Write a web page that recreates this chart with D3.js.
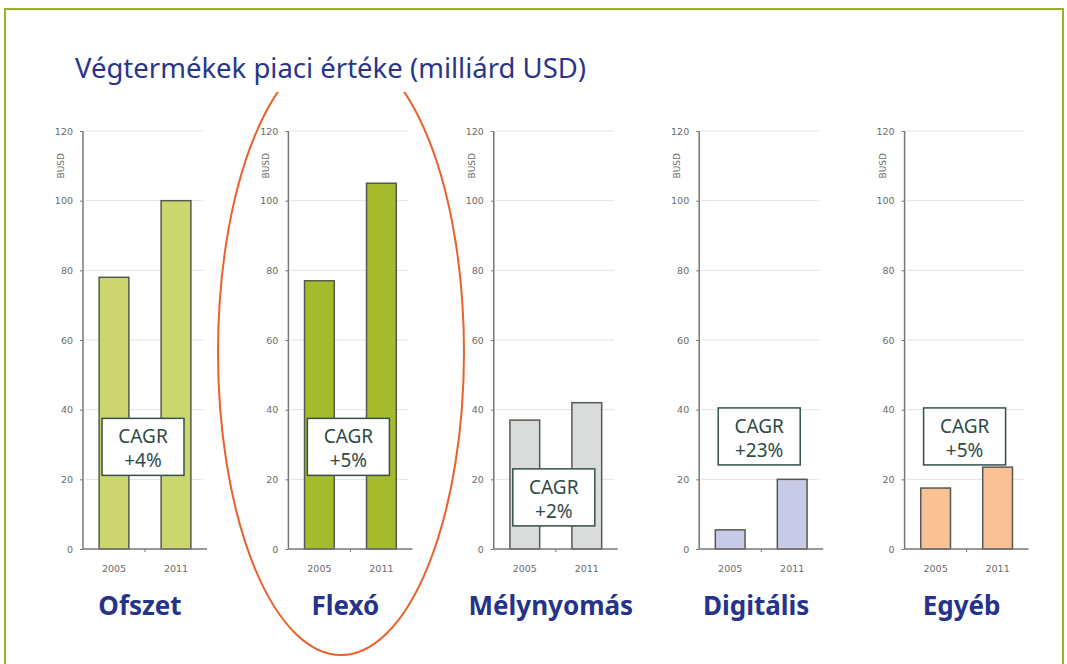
<!DOCTYPE html>
<html>
<head>
	<meta charset="UTF-8">
	<title>Végtermékek piaci értéke</title>
	<style>
html, body {
	margin:0;padding:0;background:#fff;
}
.tick text {
	font-family: "DejaVu Sans", sans-serif;
	font-size: 9.5px;
	fill: #6b6b6b;
}
.cat {
	font-family: "Noto Sans", sans-serif;
	font-weight: bold;
	font-size: 26px;
	fill: #25338a;
}
.cagr {
	font-family: "Noto Sans", sans-serif;
	font-size: 19px;
	fill: #2f4a47;
}
	</style>
	<script src="https://cdnjs.cloudflare.com/ajax/libs/d3/7.8.5/d3.min.js"></script>
</head>
<body>
<script>
const title = 'Végtermékek piaci értéke (milliárd USD)';
const segments = ['Ofszet', 'Flexó', 'Mélynyomás', 'Digitális', 'Egyéb'];
const years = ['2005', '2011'];
const values2005 = [78, 77, 37, 5.5, 17.5];
const values2011 = [100, 105, 42, 20, 23.5];
const cagr = ['+4%', '+5%', '+2%', '+23%', '+5%'];
const yTicks = [0, 20, 40, 60, 80, 100, 120];
const colors = ['#cbd66f', '#a5ba2c', '#d9dcda', '#c9c9e8', '#f9c294'];
// top of each CAGR box, in axis units
const boxTop = [37.5, 37.5, 23, 40.5, 40.5];

const W = 1067, H = 664;
const svg = d3.select(document.body).append('svg').attr('width', W).attr('height', H);

svg.append('rect')
	.attr('x', 5).attr('y', 9).attr('width', 1058).attr('height', 700)
	.attr('fill', 'none').attr('stroke', '#9fae2e').attr('stroke-width', 2);

const y = d3.scaleLinear().domain([0, 120]).range([549, 131]);
const panelX = d3.scaleBand().domain(segments).range([83, 1110]).paddingInner(0).paddingOuter(0);
const plotW = 124;

segments.forEach((seg, i) => {
	const g = svg.append('g').attr('transform', `translate(${panelX(seg)},0)`);
	const x = d3.scaleBand().domain(years).range([0, plotW]).paddingInner(0.52).paddingOuter(0.26);

	// grid
	g.append('g').selectAll('line').data(yTicks.slice(1)).join('line')
		.attr('x1', 2).attr('x2', plotW - 4)
		.attr('y1', d => y(d)).attr('y2', d => y(d))
		.attr('stroke', '#e3e3e3').attr('stroke-width', 1);

	const vals = [values2005[i], values2011[i]];
	g.append('g').selectAll('rect').data(vals).join('rect')
		.attr('x', (d, j) => x(years[j]))
		.attr('y', d => y(d))
		.attr('width', x.bandwidth())
		.attr('height', d => y(0) - y(d))
		.attr('fill', colors[i])
		.attr('stroke', '#555a4e').attr('stroke-width', 1.5);

	const ya = g.append('g').call(d3.axisLeft(y).tickValues(yTicks).tickSize(3).tickPadding(7));
	ya.select('.domain').attr('stroke', '#777').attr('stroke-width', 1.5).attr('d', `M0,${y(120)}V${y(0)}`);
	ya.selectAll('.tick line').attr('stroke', '#777');

	const xa = g.append('g').attr('transform', `translate(0,${y(0)})`)
		.call(d3.axisBottom(x).tickSize(0).tickPadding(14));
	xa.select('.domain').attr('stroke', '#777').attr('stroke-width', 1.5).attr('d', `M0,0H${plotW}`);
	xa.append('line').attr('x1', plotW / 2).attr('x2', plotW / 2).attr('y1', 0).attr('y2', 3).attr('stroke', '#777');
	xa.selectAll('.tick text').attr('dy', '0.9em');

	g.append('text')
		.attr('transform', `translate(-19,${y(110)}) rotate(-90)`)
		.attr('text-anchor', 'middle')
		.attr('font-family', '"DejaVu Sans", sans-serif')
		.attr('font-size', 9).attr('fill', '#6b6b6b')
		.text('BUSD');

	// CAGR box
	const bx = plotW / 2 - 2, bw = 82, bh = 57;
	const box = g.append('g').attr('transform', `translate(${bx - bw / 2},${y(boxTop[i])})`);
	box.append('rect').attr('width', bw).attr('height', bh)
		.attr('fill', '#fff').attr('stroke', '#35504c').attr('stroke-width', 1.5);
	box.append('text').attr('class', 'cagr').attr('x', bw / 2).attr('y', 25).attr('text-anchor', 'middle').text('CAGR');
	box.append('text').attr('class', 'cagr').attr('x', bw / 2).attr('y', 49).attr('text-anchor', 'middle').text(cagr[i]);

	g.append('text').attr('class', 'cat')
		.attr('x', plotW / 2 - 5).attr('y', 615)
		.attr('text-anchor', 'middle')
		.text(seg);
});

// highlight around Flexó
svg.append('ellipse')
	.attr('cx', 341).attr('cy', 352).attr('rx', 123).attr('ry', 303)
	.attr('fill', 'none').attr('stroke', '#e9622b').attr('stroke-width', 2);

svg.append('rect').attr('x', 50).attr('y', 38).attr('width', 570).attr('height', 54).attr('fill', '#fff');
svg.append('text')
	.attr('x', 75).attr('y', 78)
	.attr('font-family', '"Noto Sans", sans-serif')
	.attr('font-size', 27.5).attr('fill', '#28358b')
	.text(title);
</script>
</body>
</html>
